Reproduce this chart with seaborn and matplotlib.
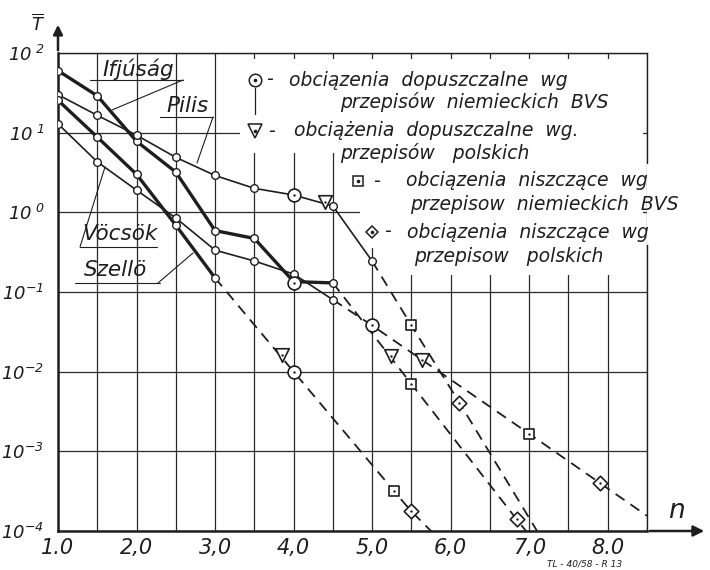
import numpy as np
import pandas as pd
import matplotlib
matplotlib.use("Agg")
import matplotlib.pyplot as plt
import matplotlib.transforms as mtransforms
from matplotlib.lines import Line2D
from matplotlib.patches import Polygon, FancyArrowPatch
from matplotlib.ticker import FixedLocator, NullLocator, FixedFormatter
import seaborn as sns

# ---------------------------------------------------------------- data
# solid (measured) parts of the curves
ifjusag_n = [1.0, 1.5, 2.0, 2.5, 3.0, 3.5, 4.0, 4.5]
ifjusag_T = [60, 29, 7.8, 3.2, 0.59, 0.47, 0.135, 0.13]
pilis_n = [1.0, 1.5, 2.0, 2.5, 3.0, 3.5, 4.0, 4.5, 5.0]
pilis_T = [30, 16.5, 9.3, 4.9, 2.9, 2.0, 1.65, 1.2, 0.244]
szello_n = [1.0, 1.5, 2.0, 2.5, 3.0]
szello_T = [25.5, 8.8, 3.0, 0.69, 0.15]
vocsok_n = [1.0, 1.5, 2.0, 2.5, 3.0, 3.5, 4.0, 4.5]
vocsok_T = [12.9, 4.3, 1.9, 0.85, 0.335, 0.245, 0.168, 0.08]

# dashed (extrapolated) continuations
ifjusag_ext_n = [4.5, 5.5, 6.84, 6.96]
ifjusag_ext_T = [0.13, 0.007, 1.4e-4, 1e-4]
pilis_ext_n = [5.0, 5.5, 6.11, 7.1]
pilis_ext_T = [0.244, 0.038, 0.0041, 1e-4]
szello_ext_n = [3.0, 4.0, 5.49, 5.75]
szello_ext_T = [0.15, 0.01, 1.8e-4, 1e-4]
vocsok_ext_n = [4.5, 5.0, 7.0, 8.5]
vocsok_ext_T = [0.08, 0.038, 0.00166, 1.55e-4]

# load levels marked on the curves
dop_bvs_n = [4.0, 4.0, 4.0, 5.0]          # dopuszczalne, BVS
dop_bvs_T = [1.65, 0.128, 0.01, 0.038]
dop_pl_n = [4.4, 3.85, 5.24, 5.64]        # dopuszczalne, PL
dop_pl_T = [1.36, 0.016, 0.0156, 0.0139]
nisz_bvs_n = [5.5, 5.28, 5.5, 7.0]        # niszczące, BVS
nisz_bvs_T = [0.038, 3.2e-4, 0.007, 0.00166]
nisz_pl_n = [6.11, 5.49, 6.84, 7.9]       # niszczące, PL
nisz_pl_T = [0.0041, 1.8e-4, 1.4e-4, 4.0e-4]

x_ticks = [1, 2, 3, 4, 5, 6, 7, 8]
x_tick_labels = ["1.0", "2,0", "3,0", "4,0", "5,0", "6,0", "7,0", "8.0"]
y_ticks = [1e-4, 1e-3, 1e-2, 1e-1, 1e0, 1e1, 1e2]
y_tick_labels = ["$10^{-4}$", "$10^{-3}$", "$10^{-2}$", "$10^{-1}$",
                 "$10^{\\ 0}$", "$10^{\\ 1}$", "$10^{\\ 2}$"]

# ---------------------------------------------------------------- style
sns.set_theme(style="white")
plt.rcParams["font.family"] = ["DejaVu Sans"]
plt.rcParams["font.style"] = "italic"
plt.rcParams["mathtext.fontset"] = "custom"
plt.rcParams["mathtext.it"] = "DejaVu Sans:italic"
plt.rcParams["mathtext.rm"] = "DejaVu Sans:italic"
plt.rcParams["mathtext.default"] = "it"

INK = "#1e1e1e"
GRID = "#2a2a2a"

fig = plt.figure(figsize=(7.1, 5.7), dpi=100)
W, H = 710, 570
L, R, T, B = 58, 647, 53, 531
ax = fig.add_axes([L / W, 1 - B / H, (R - L) / W, (B - T) / H])
ax.set_facecolor("white")

# pixel coordinates (origin top-left) for the drawing annotations
px = mtransforms.Affine2D().scale(1 / W, -1 / H).translate(0, 1) + fig.transFigure

ax.set_yscale("log")
ax.set_xlim(1.0, 8.5)
ax.set_ylim(1e-4, 1e2)

ax.xaxis.set_major_locator(FixedLocator(x_ticks))
ax.xaxis.set_major_formatter(FixedFormatter(x_tick_labels))
ax.xaxis.set_minor_locator(FixedLocator(np.arange(1.5, 8.6, 1.0)))
ax.yaxis.set_major_locator(FixedLocator(y_ticks))
ax.yaxis.set_major_formatter(FixedFormatter(y_tick_labels))
ax.yaxis.set_minor_locator(NullLocator())
ax.tick_params(axis="both", which="both", length=0)
ax.tick_params(axis="x", pad=5, labelsize=15, labelcolor=INK)
ax.tick_params(axis="y", pad=10, labelsize=13, labelcolor=INK)
ax.set_axisbelow(True)
ax.grid(True, which="both", axis="x", color=GRID, lw=0.9)
ax.grid(True, which="major", axis="y", color=GRID, lw=0.9)

for side in ["left", "bottom", "top", "right"]:
    ax.spines[side].set_visible(True)
    ax.spines[side].set_color(INK)
ax.spines["left"].set_linewidth(1.8)
ax.spines["bottom"].set_linewidth(1.8)
ax.spines["top"].set_linewidth(1.0)
ax.spines["right"].set_linewidth(1.0)
ax.spines["right"].set_bounds(1e-4, 10 ** -0.41)
ax.plot([8.5, 8.5], [10 ** 0.62, 1e2], color=INK, lw=1.0, clip_on=False, zorder=2.5)

# blank area behind the key (grid is interrupted there)
mask = Polygon([(3.32, 10 ** 1.93), (8.45, 10 ** 1.93), (8.45, 10 ** -0.79),
                (5.25, 10 ** -0.79), (5.25, 10 ** -0.45), (4.85, 10 ** -0.45),
                (4.85, 10 ** 0.74), (3.32, 10 ** 0.74)],
               closed=True, facecolor="white", edgecolor="none", zorder=1)
ax.add_patch(mask)

# ---------------------------------------------------------------- curves
solid = [(ifjusag_n, ifjusag_T, 2.4), (pilis_n, pilis_T, 1.2),
         (szello_n, szello_T, 2.4), (vocsok_n, vocsok_T, 1.2)]
for xs, ys, lw in solid:
    sns.lineplot(x=xs, y=ys, ax=ax, color=INK, lw=lw, marker="o",
                 markersize=5.5, markerfacecolor="white", markeredgecolor=INK,
                 markeredgewidth=1.0, sort=False, zorder=4)

dashed = [(ifjusag_ext_n, ifjusag_ext_T), (pilis_ext_n, pilis_ext_T),
          (szello_ext_n, szello_ext_T), (vocsok_ext_n, vocsok_ext_T)]
for xs, ys in dashed:
    sns.lineplot(x=xs, y=ys, ax=ax, color=INK, lw=1.3, sort=False,
                 dashes=False, zorder=3).lines[-1].set_dashes([6, 4])

marks = [(dop_bvs_n, dop_bvs_T, "o", 85), (dop_pl_n, dop_pl_T, "v", 95),
         (nisz_bvs_n, nisz_bvs_T, "s", 60), (nisz_pl_n, nisz_pl_T, "D", 55)]
for xs, ys, m, s in marks:
    sns.scatterplot(x=xs, y=ys, ax=ax, marker=m, s=s, facecolor="white",
                    edgecolor=INK, linewidth=1.2, zorder=5)
    sns.scatterplot(x=xs, y=ys, ax=ax, marker="o", s=3, color=INK,
                    edgecolor=INK, linewidth=0, zorder=6)

# ---------------------------------------------------------------- axis arrows
ax.add_patch(FancyArrowPatch((L, T), (L, 22), transform=px, arrowstyle="-|>",
                             mutation_scale=14, color=INK, lw=1.8, clip_on=False))
ax.add_patch(FancyArrowPatch((R, B), (707, B), transform=px, arrowstyle="-|>",
                             mutation_scale=16, color=INK, lw=1.8, clip_on=False))
fig.text(38, 24, "$\\overline{T}$", transform=px, fontsize=13, ha="center",
         va="center", color=INK)
fig.text(676, 511, "n", transform=px, fontsize=19, ha="center", va="center",
         color=INK)
fig.text(585, 564, "TL - 40/58 - R 13", transform=px, fontsize=6.5, ha="center",
         va="center", color=INK)

# ---------------------------------------------------------------- curve names
def name(text, cx, cy, ul, leader):
    fig.text(cx, cy, text, transform=px, fontsize=15.5, ha="center", va="center",
             color=INK)
    fig.add_artist(Line2D(ul[0], ul[1], transform=px, color=INK, lw=0.8))
    fig.add_artist(Line2D(leader[0], leader[1], transform=px, color=INK, lw=0.8))

name("Ifjúság", 138, 69, ([90, 183], [80, 80]), ([183, 112], [80, 110]))
name("Pilis", 188, 106, ([160, 213], [117, 117]), ([213, 197], [117, 163]))
name("Vöcsök", 120, 234, ([80, 157], [247, 247]), ([80, 105], [247, 167]))
name("Szellö", 116, 270, ([75, 160], [283, 283]), ([158, 193], [283, 253]))

# ---------------------------------------------------------------- key
KEY = dict(transform=px, fontsize=13.5, ha="left", va="center", color=INK)
key_marks = [(255, 80, "o", 9), (255, 131, "v", 10), (358, 181, "s", 7),
             (372, 232, "D", 6.5)]
for mx, my, m, ms in key_marks:
    fig.add_artist(Line2D([mx], [my], transform=px, marker=m, markersize=ms,
                          markerfacecolor="white", markeredgecolor=INK,
                          markeredgewidth=1.1, linestyle="none"))
    fig.add_artist(Line2D([mx], [my], transform=px, marker="o", markersize=1.6,
                          color=INK, linestyle="none"))
fig.add_artist(Line2D([255, 255], [88, 114], transform=px, color=INK, lw=0.9))

fig.text(266, 80, "-", **KEY)
fig.text(289, 80, "obciązenia  dopuszczalne  wg", **KEY)
fig.text(340, 102, "przepisów  niemieckich  BVS", **KEY)
fig.text(268, 131, "-", **KEY)
fig.text(294, 130, "obciążenia  dopuszczalne  wg.", **KEY)
fig.text(340, 153, "przepisów   polskich", **KEY)
fig.text(373, 181, "-", **KEY)
fig.text(406, 181, "obciązenia  niszczące  wg", **KEY)
fig.text(410, 204, "przepisow  niemieckich  BVS", **KEY)
fig.text(384, 232, "-", **KEY)
fig.text(407, 232, "obciązenia  niszczące  wg", **KEY)
fig.text(414, 256, "przepisow   polskich", **KEY)

fig.savefig("out.png", dpi=100, facecolor="white")
